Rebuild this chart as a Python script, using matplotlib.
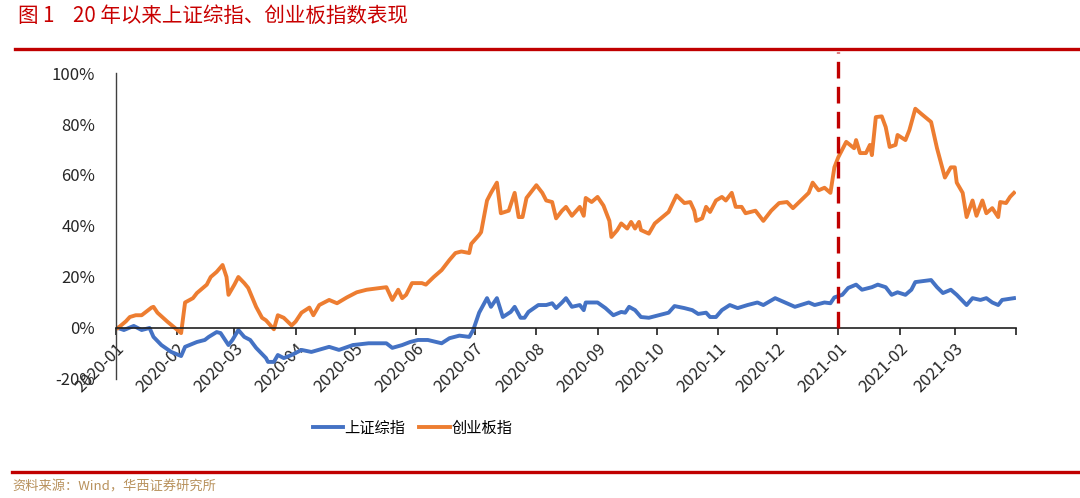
import matplotlib
matplotlib.use('Agg')
import matplotlib.pyplot as plt
import pandas as pd

# 中文字體
plt.rcParams['font.family'] = ['Noto Sans CJK SC', 'DejaVu Sans']
plt.rcParams['axes.unicode_minus'] = False

# 上证综指 (累计涨跌幅 %)
sh_dates = [
    '2020-01-02', '2020-01-05', '2020-01-10', '2020-01-14', '2020-01-18', '2020-01-20',
    '2020-01-24', '2020-01-29', '2020-02-03', '2020-02-05', '2020-02-11', '2020-02-15',
    '2020-02-17', '2020-02-21', '2020-02-23', '2020-02-27', '2020-02-29', '2020-03-03',
    '2020-03-06', '2020-03-09', '2020-03-12', '2020-03-17', '2020-03-18', '2020-03-21',
    '2020-03-23', '2020-03-26', '2020-03-30', '2020-04-04', '2020-04-09', '2020-04-18',
    '2020-04-23', '2020-04-30', '2020-05-08', '2020-05-17', '2020-05-20', '2020-05-25',
    '2020-05-29', '2020-06-02', '2020-06-07', '2020-06-14', '2020-06-18', '2020-06-23',
    '2020-06-28', '2020-06-30', '2020-07-03', '2020-07-07', '2020-07-09', '2020-07-12',
    '2020-07-15', '2020-07-19', '2020-07-21', '2020-07-24', '2020-07-26', '2020-07-28',
    '2020-08-02', '2020-08-06', '2020-08-09', '2020-08-11', '2020-08-14', '2020-08-16',
    '2020-08-19', '2020-08-23', '2020-08-25', '2020-08-26', '2020-09-01', '2020-09-05',
    '2020-09-09', '2020-09-13', '2020-09-15', '2020-09-17', '2020-09-20', '2020-09-23',
    '2020-09-27', '2020-10-07', '2020-10-10', '2020-10-15', '2020-10-19', '2020-10-22',
    '2020-10-26', '2020-10-28', '2020-10-31', '2020-11-03', '2020-11-07', '2020-11-11',
    '2020-11-16', '2020-11-21', '2020-11-24', '2020-11-30', '2020-12-05', '2020-12-10',
    '2020-12-17', '2020-12-20', '2020-12-25', '2020-12-28', '2020-12-30', '2021-01-03',
    '2021-01-06', '2021-01-10', '2021-01-13', '2021-01-18', '2021-01-21', '2021-01-25',
    '2021-01-28', '2021-01-31', '2021-02-04', '2021-02-07', '2021-02-09', '2021-02-17',
    '2021-02-20', '2021-02-23', '2021-02-27', '2021-03-02', '2021-03-07', '2021-03-10',
    '2021-03-14', '2021-03-17', '2021-03-20', '2021-03-23', '2021-03-25', '2021-03-31',
]
sh_values = [
    0, -0.8, 0.8, -0.8, 0, -3.5,
    -6.7, -9.4, -11, -7.4, -5.5, -4.7,
    -3.5, -1.6, -2, -6.7, -4.7, -0.8,
    -3.5, -4.7, -7.8, -11.8, -13.3, -13.3,
    -10.6, -11.8, -10.6, -8.6, -9.4, -7.4,
    -8.6, -6.7, -6, -6, -7.8, -6.7,
    -5.5, -4.7, -4.7, -6, -4, -3,
    -3.5, -0.8, 6, 11.7, 8.3, 11.7,
    4.3, 6.3, 8.3, 4, 4, 6.3,
    9, 9, 9.7, 7.8, 10, 11.7,
    8.3, 9, 7, 10, 10, 7.8,
    5, 6.3, 6, 8.3, 7, 4.3,
    4, 6, 8.6, 7.8, 7, 5.5,
    6, 4.3, 4.3, 7, 9, 7.8,
    9, 10, 9, 11.7, 10, 8.3,
    10, 9, 10, 9.7, 12, 13,
    15.7, 17, 15, 16, 17, 16,
    13, 14, 13, 15, 18, 18.8,
    16, 13.7, 15, 13, 9, 11.7,
    11, 11.7, 10, 9, 11, 11.7,
]

# 创业板指 (累计涨跌幅 %)
cy_dates = [
    '2020-01-02', '2020-01-06', '2020-01-08', '2020-01-11', '2020-01-14', '2020-01-19',
    '2020-01-20', '2020-01-22', '2020-01-27', '2020-02-03', '2020-02-05', '2020-02-09',
    '2020-02-11', '2020-02-16', '2020-02-18', '2020-02-21', '2020-02-24', '2020-02-26',
    '2020-02-27', '2020-03-01', '2020-03-03', '2020-03-06', '2020-03-08', '2020-03-12',
    '2020-03-15', '2020-03-17', '2020-03-21', '2020-03-23', '2020-03-26', '2020-03-30',
    '2020-04-01', '2020-04-04', '2020-04-08', '2020-04-10', '2020-04-13', '2020-04-18',
    '2020-04-22', '2020-04-27', '2020-05-02', '2020-05-07', '2020-05-12', '2020-05-17',
    '2020-05-20', '2020-05-23', '2020-05-25', '2020-05-27', '2020-05-30', '2020-06-02',
    '2020-06-04', '2020-06-06', '2020-06-10', '2020-06-14', '2020-06-18', '2020-06-21',
    '2020-06-24', '2020-06-28', '2020-06-29', '2020-07-03', '2020-07-04', '2020-07-07',
    '2020-07-09', '2020-07-12', '2020-07-14', '2020-07-18', '2020-07-21', '2020-07-23',
    '2020-07-25', '2020-07-27', '2020-08-01', '2020-08-04', '2020-08-06', '2020-08-09',
    '2020-08-11', '2020-08-14', '2020-08-16', '2020-08-19', '2020-08-23', '2020-08-25',
    '2020-08-26', '2020-08-29', '2020-09-01', '2020-09-04', '2020-09-07', '2020-09-08',
    '2020-09-11', '2020-09-13', '2020-09-16', '2020-09-18', '2020-09-20', '2020-09-22',
    '2020-09-23', '2020-09-27', '2020-09-30', '2020-10-07', '2020-10-11', '2020-10-15',
    '2020-10-18', '2020-10-20', '2020-10-21', '2020-10-24', '2020-10-26', '2020-10-28',
    '2020-10-31', '2020-11-03', '2020-11-05', '2020-11-08', '2020-11-10', '2020-11-13',
    '2020-11-15', '2020-11-20', '2020-11-24', '2020-11-28', '2020-12-02', '2020-12-06',
    '2020-12-09', '2020-12-13', '2020-12-17', '2020-12-19', '2020-12-22', '2020-12-25',
    '2020-12-28', '2020-12-30', '2021-01-01', '2021-01-05', '2021-01-09', '2021-01-10',
    '2021-01-12', '2021-01-15', '2021-01-17', '2021-01-18', '2021-01-20', '2021-01-23',
    '2021-01-25', '2021-01-27', '2021-01-30', '2021-01-31', '2021-02-04', '2021-02-06',
    '2021-02-09', '2021-02-12', '2021-02-17', '2021-02-20', '2021-02-24', '2021-02-27',
    '2021-03-01', '2021-03-02', '2021-03-05', '2021-03-07', '2021-03-10', '2021-03-12',
    '2021-03-15', '2021-03-17', '2021-03-20', '2021-03-23', '2021-03-24', '2021-03-27',
    '2021-03-29', '2021-03-31',
]
cy_values = [
    0, 2.6, 4.3, 5, 5, 8,
    8.3, 6, 2.5, -2, 10, 11.7,
    13.7, 17, 20, 22, 24.7, 20,
    13, 17, 20, 17.6, 15.7, 8.3,
    4, 3, -0.5, 5, 4, 1,
    2.5, 6, 8, 5, 9, 11,
    9.7, 12, 14, 15, 15.5, 16,
    11, 15, 11.7, 13, 17.6, 17.6,
    17.6, 17, 20, 22.7, 26.7, 29.4,
    30, 29.4, 33, 36.5, 37.6, 50,
    53, 57, 45, 46, 53, 43.5,
    43.5, 51, 56, 53, 50, 49.4,
    43, 46, 47.5, 44, 47.5, 44,
    51, 49.4, 51.4, 48, 42, 35.7,
    38.4, 41, 39, 41.6, 39, 41.6,
    38.4, 37, 41, 45.5, 52, 49,
    49.4, 46, 42, 43, 47.5, 45.5,
    50, 51.4, 50, 53, 47.5, 47.5,
    45, 46, 42, 46, 49, 49.4,
    47, 50, 53, 57, 54, 55,
    53, 63, 67, 73, 70.5, 73.7,
    68.6, 68.6, 71.8, 67.8, 82.7, 83,
    78.8, 71, 71.8, 75.7, 73.7, 77.6,
    86, 84, 80.8, 70.5, 59, 63,
    63, 57, 53, 43.5, 50, 44,
    50, 45, 47, 43.5, 49.4, 49,
    51.4, 53,
]

month_ticks = pd.date_range('2020-01-01', '2021-04-01', freq='MS')
month_labels = [d.strftime('%Y-%m') for d in month_ticks[:-1]] + ['']
yticks = [-20, 0, 20, 40, 60, 80, 100]
marker_date = pd.Timestamp('2021-01-01')

fig = plt.figure(figsize=(10.8, 4.98), dpi=100)
ax = fig.add_axes([0.1074, 0.239, 0.8333, 0.6144])

ax.plot(pd.to_datetime(sh_dates), sh_values, color='#4472C4', linewidth=2.8, label='上证综指')
ax.plot(pd.to_datetime(cy_dates), cy_values, color='#ED7D31', linewidth=2.8, label='创业板指')

ax.axvline(marker_date, ymin=1 / 6, ymax=1.07, color='#C00000', linewidth=2.4,
           dashes=(5, 2.5), clip_on=False, zorder=5)

ax.set_xlim(pd.Timestamp('2020-01-01'), pd.Timestamp('2021-04-01'))
ax.set_ylim(-20, 100)
ax.set_xticks(month_ticks)
ax.set_xticklabels(month_labels)
ax.set_yticks(yticks)
ax.set_yticklabels([f'{v}%' for v in yticks], fontsize=12, color='#262626')
ax.tick_params(axis='y', length=0, pad=15)
ax.tick_params(axis='x', direction='out', length=5, width=1.2, color='#202020', pad=4)

for s in ['top', 'right']:
    ax.spines[s].set_visible(False)
ax.spines['bottom'].set_position(('data', 0))
ax.spines['bottom'].set_color('#202020')
ax.spines['bottom'].set_linewidth(1.2)
ax.spines['left'].set_color('#404040')
ax.spines['left'].set_linewidth(1.0)

fig.legend(loc='center', bbox_to_anchor=(0.382, 0.14), ncol=2, frameon=False,
           fontsize=11, handlelength=2.0, handletextpad=0.1, columnspacing=0.9)

# 标题与上下红线
fig.text(0.017, 0.968, '图 1    20 年以来上证综指、创业板指数表现', fontsize=14.8,
         color='#C80000', va='center', ha='left')
fig.add_artist(plt.Line2D([0.014, 1.0], [0.902, 0.902], color='#C00000', linewidth=2.4))
fig.add_artist(plt.Line2D([0.011, 1.0], [0.052, 0.052], color='#C00000', linewidth=2.4))
fig.text(0.011, 0.022, '资料来源：Wind，华西证券研究所', fontsize=9.5,
         color='#B8915C', va='center', ha='left')

fig.canvas.draw()
plt.setp(ax.get_xticklabels(), rotation=45, ha='right', rotation_mode='anchor',
         fontsize=12, color='#262626')

plt.savefig('out.png', dpi=100)
plt.close()
